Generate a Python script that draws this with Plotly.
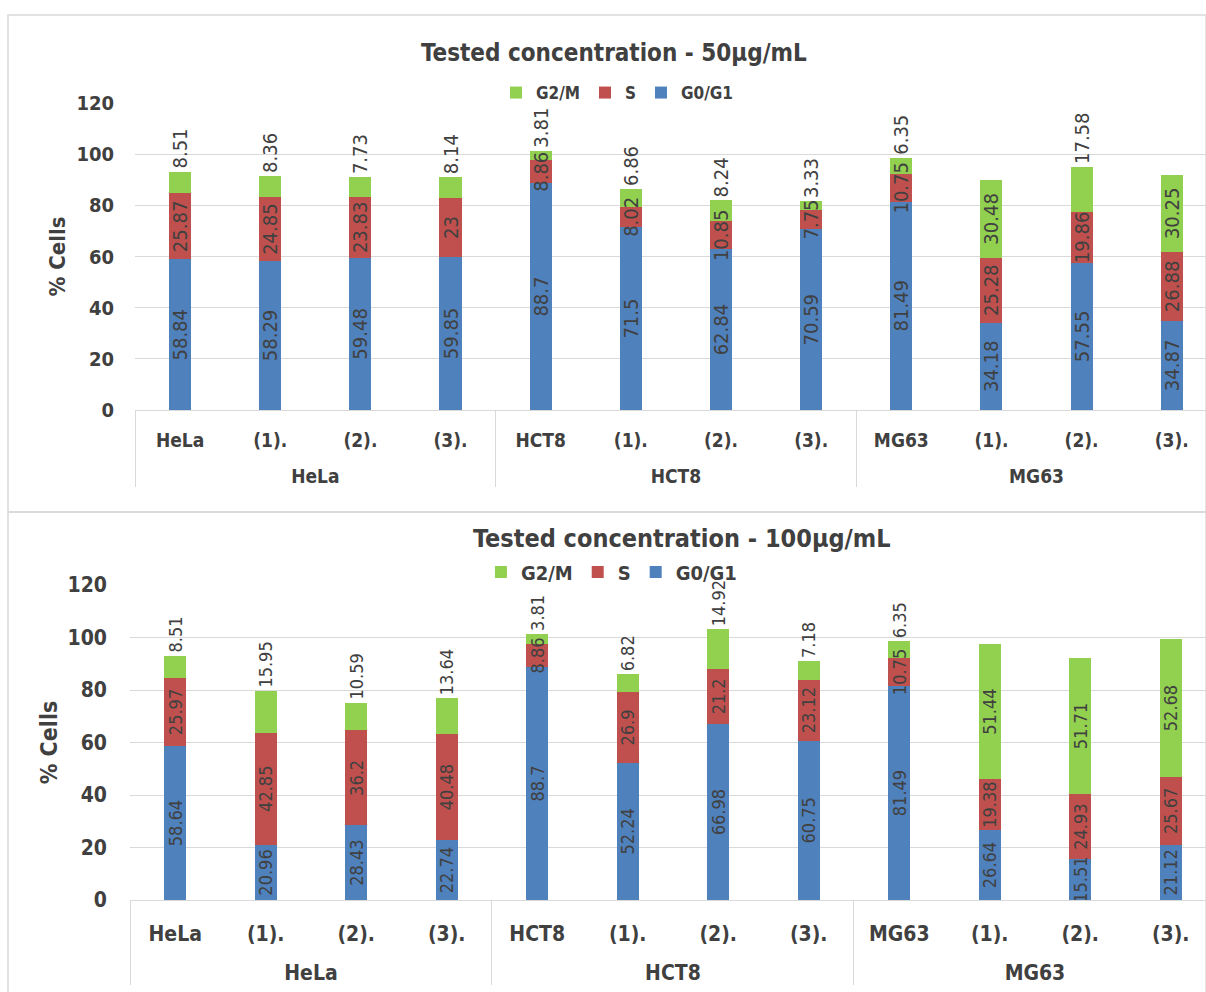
import plotly.graph_objects as go

groups = ["HeLa"] * 4 + ["HCT8"] * 4 + ["MG63"] * 4
samples = ["HeLa", "(1).", "(2).", "(3).", "HCT8", "(1).", "(2).", "(3).",
           "MG63", "(1).", "(2).", "(3)."]

g0g1_50 = [58.84, 58.29, 59.48, 59.85, 88.7, 71.5, 62.84, 70.59, 81.49, 34.18, 57.55, 34.87]
s_50 = [25.87, 24.85, 23.83, 23, 8.86, 8.02, 10.85, 7.75, 10.75, 25.28, 19.86, 26.88]
g2m_50 = [8.51, 8.36, 7.73, 8.14, 3.81, 6.86, 8.24, 3.33, 6.35, 30.48, 17.58, 30.25]

g0g1_100 = [58.64, 20.96, 28.43, 22.74, 88.7, 52.24, 66.98, 60.75, 81.49, 26.64, 15.51, 21.12]
s_100 = [25.97, 42.85, 36.2, 40.48, 8.86, 26.9, 21.2, 23.12, 10.75, 19.38, 24.93, 25.67]
g2m_100 = [8.51, 15.95, 10.59, 13.64, 3.81, 6.82, 14.92, 7.18, 6.35, 51.44, 51.71, 52.68]

series_names = ["G0/G1", "S", "G2/M"]
colors = {"G0/G1": "#4f81bd", "S": "#c0504d", "G2/M": "#92d050"}
y_ticks = [0, 20, 40, 60, 80, 100, 120]

FONT = "DejaVu Sans Condensed, Liberation Sans, Arial, sans-serif"
TXT = "#404040"
GRID = "#d9d9d9"

W, H = 1206, 992


def px(xp):
    return xp / W


def py(yp):
    return (H - yp) / H


# unique inner labels per group (zero-width marks keep the group order intact)
group_order = list(dict.fromkeys(groups))
inner = [s + "\u200b" * group_order.index(g) for g, s in zip(groups, samples)]
outer = ["\u00a0<br>" + g for g in groups]

fig = go.Figure()

panels = [
    dict(data=[g0g1_50, s_50, g2m_50], xa="x", ya="y", xt="x3", yt="y3", leg="legend", fs=20),
    dict(data=[g0g1_100, s_100, g2m_100], xa="x2", ya="y2", xt="x4", yt="y4", leg="legend2", fs=18),
]

for p in panels:
    # coloured stacked bars
    for name, vals in zip(series_names, p["data"]):
        fig.add_trace(go.Bar(
            x=[outer, inner], y=vals, name=name,
            marker=dict(color=colors[name], line=dict(width=0)),
            hoverinfo="y+name",
            xaxis=p["xa"], yaxis=p["ya"], legend=p["leg"],
        ))
    # transparent copy on an overlaid subplot carrying the data labels (kept on top)
    for name, vals in zip(series_names, p["data"]):
        if name == "G2/M":
            tpos = ["outside" if v < 25 else "inside" for v in vals]
        else:
            tpos = "inside"
        fig.add_trace(go.Bar(
            x=[outer, inner], y=vals, name=name, showlegend=False,
            marker=dict(color="rgba(0,0,0,0)", line=dict(width=0)),
            text=[f"{v:g}" for v in vals], texttemplate="%{text}",
            textposition=tpos,
            textangle=-90, constraintext="none", insidetextanchor="middle",
            insidetextfont=dict(family=FONT, size=p["fs"], color=TXT),
            outsidetextfont=dict(family=FONT, size=p["fs"], color=TXT),
            cliponaxis=False, hoverinfo="skip",
            xaxis=p["xt"], yaxis=p["yt"],
        ))


def xaxis_cfg(size, standoff):
    return dict(
        type="multicategory", showgrid=False, showline=True, linecolor=GRID, linewidth=1,
        showdividers=True, dividercolor=GRID, dividerwidth=1, ticks="",
        ticklabelstandoff=standoff,
        tickfont=dict(family=FONT, size=size, color=TXT, weight="bold"),
    )


def yaxis_cfg(size, standoff):
    return dict(
        range=[0, 120], tickvals=y_ticks, showgrid=True, gridcolor=GRID, gridwidth=1,
        zeroline=False, showline=False, ticklabelstandoff=standoff,
        tickfont=dict(family=FONT, size=size, color=TXT, weight="bold"),
    )


top_xdom = [px(135), 1]
top_ydom = [py(410), py(103)]
bot_xdom = [px(130), 1]
bot_ydom = [py(900), py(585)]
top_xr = [-0.5, 11.38]
bot_xr = [-0.5, 11.39]

fig.update_layout(
    width=W, height=H, margin=dict(l=0, r=0, t=0, b=0, autoexpand=False),
    paper_bgcolor="white", plot_bgcolor="white",
    barmode="stack", bargap=0.755,
    font=dict(family=FONT, color=TXT),
    xaxis=dict(domain=top_xdom, anchor="y", range=top_xr, **xaxis_cfg(19, 13)),
    yaxis=dict(domain=top_ydom, anchor="x",
               title=dict(text="% Cells", font=dict(family=FONT, size=22, color=TXT, weight="bold"),
                          standoff=4), **yaxis_cfg(20, 20)),
    xaxis2=dict(domain=bot_xdom, anchor="y2", range=bot_xr, **xaxis_cfg(21, 15)),
    yaxis2=dict(domain=bot_ydom, anchor="x2",
                title=dict(text="% Cells", font=dict(family=FONT, size=23, color=TXT, weight="bold"),
                           standoff=3), **yaxis_cfg(21, 22)),
    xaxis3=dict(type="multicategory", overlaying="x", matches="x", domain=top_xdom, anchor="y3",
                range=top_xr, visible=False),
    yaxis3=dict(overlaying="y", matches="y", domain=top_ydom, anchor="x3", range=[0, 120],
                visible=False),
    xaxis4=dict(type="multicategory", overlaying="x2", matches="x2", domain=bot_xdom, anchor="y4",
                range=bot_xr, visible=False),
    yaxis4=dict(overlaying="y2", matches="y2", domain=bot_ydom, anchor="x4", range=[0, 120],
                visible=False),
    legend=dict(orientation="h", x=0.512, xanchor="center", y=py(93), yanchor="middle",
                traceorder="reversed", font=dict(family=FONT, size=17, color=TXT, weight="bold"),
                itemwidth=30, tracegroupgap=0, bgcolor="rgba(0,0,0,0)"),
    legend2=dict(orientation="h", x=0.507, xanchor="center", y=py(572), yanchor="middle",
                 traceorder="reversed", font=dict(family=FONT, size=20, color=TXT, weight="bold"),
                 itemwidth=30, tracegroupgap=0, bgcolor="rgba(0,0,0,0)"),
    annotations=[
        dict(text="Tested concentration - 50µg/mL", x=px(614), y=py(53), xref="paper", yref="paper",
             showarrow=False, xanchor="center", yanchor="middle",
             font=dict(family=FONT, size=24, color=TXT, weight="bold")),
        dict(text="Tested concentration - 100µg/mL", x=px(682), y=py(538), xref="paper", yref="paper",
             showarrow=False, xanchor="center", yanchor="middle",
             font=dict(family=FONT, size=25, color=TXT, weight="bold")),
    ],
    shapes=[
        dict(type="rect", xref="paper", yref="paper", x0=px(8), x1=1.0, y0=py(512), y1=py(15),
             line=dict(color=GRID, width=1.5), fillcolor="rgba(0,0,0,0)"),
        dict(type="rect", xref="paper", yref="paper", x0=px(8), x1=1.0, y0=-0.02, y1=py(512),
             line=dict(color=GRID, width=1.5), fillcolor="rgba(0,0,0,0)"),
    ],
)

fig.write_html("out.html", config={"displayModeBar": False},
               post_script="document.body.style.margin='0';document.body.style.overflow='hidden';")
